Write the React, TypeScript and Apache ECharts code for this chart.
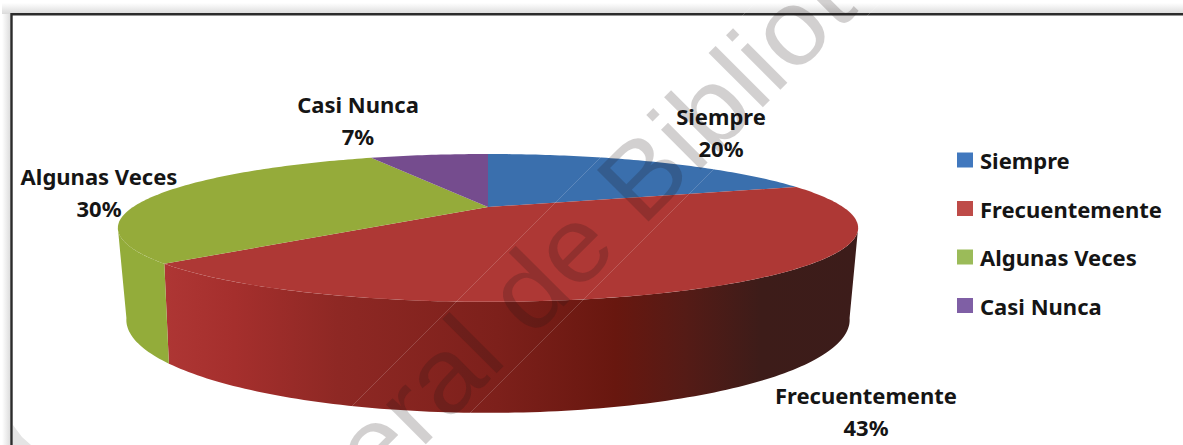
import React, { useEffect, useRef } from "react";
import * as echarts from "echarts";

const categories = ["Siempre", "Frecuentemente", "Algunas Veces", "Casi Nunca"];
const values = [19.8, 43.4, 30, 6.8];
const legendColors = ["#4178BE", "#BE4B48", "#9BBB59", "#7F5FA5"];
const faceColors = ["#3A6FAD", "#AE3835", "#95AB3A", "#754C8E"];
const wallColors = ["#3A6FAD", "wall", "#93AC3A", "#754C8E"];
const labelAnchors = [
  [721, 132],
  [866, 411],
  [99, 192],
  [358, 120],
];
const FONT = "'Noto Sans', sans-serif";
const LABEL_SIZE = 22;

// Perspective projection of the pie's top and bottom discs.
const top = { cx: 488, y0: 207, a: 355, b: 68, k: 0.283 };
const bottom = { cx: 488, y0: 292, a: 345, b: 84.6, k: 0.3 };
const project = (d: typeof top, deg: number) => {
  const t = (deg * Math.PI) / 180;
  const w = 1 + d.k * Math.cos(t);
  return [d.cx + (d.a * Math.sin(t)) / w, d.y0 - (d.b * Math.cos(t)) / w];
};
const arc = (d: typeof top, from: number, to: number) => {
  const pts: number[][] = [];
  const n = Math.max(2, Math.ceil(Math.abs(to - from)));
  for (let i = 0; i <= n; i++) pts.push(project(d, from + ((to - from) * i) / n));
  return pts;
};
const total = values.reduce((s, v) => s + v, 0);
const startDeg = (i: number) =>
  (values.slice(0, i).reduce((s, v) => s + v, 0) / total) * 360;

const wallGradient = () =>
  new echarts.graphic.LinearGradient(
    165,
    0,
    858,
    0,
    [
      { offset: 0, color: "#AE3634" },
      { offset: 0.1, color: "#A52F2D" },
      { offset: 0.25, color: "#8E2824" },
      { offset: 0.48, color: "#7D201B" },
      { offset: 0.65, color: "#68170F" },
      { offset: 0.75, color: "#551B16" },
      { offset: 0.86, color: "#3D1C19" },
      { offset: 1, color: "#3C1C1A" },
    ],
    true,
  );

const makeRenderItem = (i: number) => () => {
  const a = startDeg(i);
  const b = a + (values[i] / total) * 360;
  const children: any[] = [];
  const wa = Math.max(a, 106.4);
  const wb = Math.min(b, 253.6);
  if (wb > wa) {
    const pts = arc(top, wa, wb).concat(arc(bottom, wb, wa));
    children.push({
      type: "polygon",
      shape: { points: pts },
      style: {
        fill: wallColors[i] === "wall" ? wallGradient() : wallColors[i],
      },
    });
  }
  children.push({
    type: "polygon",
    shape: { points: [[top.cx, top.y0], ...arc(top, a, b)] },
    style: { fill: faceColors[i] },
  });
  children.push({
    type: "text",
    z2: 50,
    style: {
      x: labelAnchors[i][0],
      y: labelAnchors[i][1],
      text: `${categories[i]}\n${Math.round((values[i] / total) * 100)}%`,
      textAlign: "center",
      textVerticalAlign: "middle",
      lineHeight: 32,
      font: `bold ${LABEL_SIZE}px ${FONT}`,
      fill: "#151515",
    },
  });
  return { type: "group", children };
};

export default function App() {
  const ref = useRef<HTMLDivElement>(null);
  useEffect(() => {
    document.body.style.margin = "0";
    const chart = echarts.init(ref.current!, null, { renderer: "svg" });
    const fade = (x0: number, y0: number, x1: number, y1: number) =>
      new echarts.graphic.LinearGradient(x0, y0, x1, y1, [
        { offset: 0, color: "#FFFFFF" },
        { offset: 1, color: "#DADADA" },
      ]);
    chart.setOption({
      animation: false,
      backgroundColor: "#FFFFFF",
      legend: {
        orient: "vertical",
        left: 957,
        top: 149,
        padding: 0,
        itemWidth: 16,
        itemHeight: 15,
        itemGap: 26.5,
        icon: "rect",
        selectedMode: false,
        data: categories,
        textStyle: {
          fontFamily: FONT,
          fontWeight: "bold",
          fontSize: LABEL_SIZE,
          color: "#151515",
          padding: [0, 0, 0, 2],
        },
      },
      series: categories.map((name, i) => ({
        type: "custom",
        name,
        coordinateSystem: "none",
        clip: false,
        itemStyle: { color: legendColors[i] },
        data: [[values[i]]],
        renderItem: makeRenderItem(i),
      })),
      graphic: [
        { type: "rect", z: -2, shape: { x: 2, y: 3, width: 1181, height: 11 }, style: { fill: fade(0, 0, 0, 1) } },
        { type: "rect", z: -2, shape: { x: 2, y: 14, width: 9, height: 431 }, style: { fill: fade(0, 0, 1, 0) } },
        { type: "polygon", z: -1, shape: { points: [[13, 425], [22, 437], [31, 445], [13, 445]] }, style: { fill: "#E4E4E4" } },
        { type: "polyline", z: 5, shape: { points: [[11.5, 445], [11.5, 14.2], [1183, 14.2]] }, style: { stroke: "#2B2B2B", lineWidth: 2.4, fill: "none" } },
        { type: "line", z: 90, shape: { x1: 310, y1: 448, x2: 760, y2: -2 }, style: { stroke: "rgba(255,255,255,0.22)", lineWidth: 0.8 } },
        { type: "line", z: 90, shape: { x1: 436, y1: 447, x2: 885, y2: -2 }, style: { stroke: "rgba(255,255,255,0.22)", lineWidth: 0.8 } },
        {
          type: "text",
          z: 100,
          x: 199,
          y: 619,
          rotation: Math.PI / 4,
          scaleX: 1.065,
          style: {
            text: "General de Biblioteca",
            textAlign: "left",
            textVerticalAlign: "middle",
            font: "106px 'Liberation Sans', sans-serif",
            fill: "rgba(30,20,20,0.2)",
          },
        },
      ],
    });
    return () => chart.dispose();
  }, []);
  return <div ref={ref} style={{ width: 1183, height: 445 }} />;
}
